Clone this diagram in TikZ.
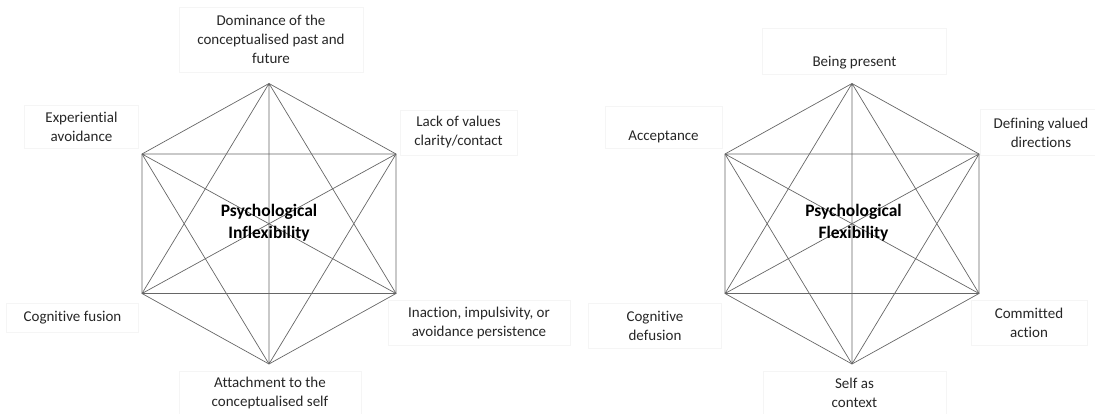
\documentclass[tikz,border=0pt]{standalone}
\usepackage{fontspec}
\setmainfont{Carlito}[Ligatures=NoCommon]
\usepackage{tikz}

\begin{document}
\begin{tikzpicture}[x=1pt, y=-1pt,
		web/.style={draw=black!60, line width=0.7pt},
		tbox/.style={draw=black!4, line width=0.5pt, inner sep=0pt, align=center, text=black!85, font=\fontsize{15}{19}\selectfont},
		core/.style={inner sep=0pt, align=center, font=\fontsize{17.5}{21.5}\selectfont\bfseries}]
		%%%%% START %%%%%
		\useasboundingbox (0, 0) rectangle (1095, 414);
		
		% left hexagon
		\coordinate (a1) at (269, 83.5);
		\coordinate (a2) at (396, 154);
		\coordinate (a3) at (396, 293.5);
		\coordinate (a4) at (269, 364);
		\coordinate (a5) at (142, 293.5);
		\coordinate (a6) at (142, 154);
		\draw[web] (a1) -- (a2) -- (a3) -- (a4) -- (a5) -- (a6) -- cycle;
		\draw[web] (a1) -- (a3) (a1) -- (a4) (a1) -- (a5) (a2) -- (a4) (a2) -- (a5);
		\draw[web] (a2) -- (a6) (a3) -- (a5) (a3) -- (a6) (a4) -- (a6);
		
		\node[core] (inflex) at (269, 222.5) {Psychological\\Inflexibility};
		
		\node[tbox, minimum width=184, minimum height=65] (dominance) at (271, 39.5) {Dominance of the\\conceptualised past and\\future};
		\node[tbox, minimum width=114, minimum height=43] (avoid) at (81.5, 126.5) {Experiential\\avoidance};
		\node[tbox, minimum width=117, minimum height=45] (lack) at (458.5, 132.5) {Lack of values\\clarity/contact};
		\node[tbox, minimum width=132, minimum height=29] (fusion) at (72.5, 317.5) {Cognitive fusion};
		\node[tbox, minimum width=182, minimum height=45] (inaction) at (479, 322.5) {Inaction, impulsivity, or\\avoidance persistence};
		\node[tbox, minimum width=182, minimum height=43] (attach) at (270, 392.5) {Attachment to the\\conceptualised self};
		
		% right hexagon
		\coordinate (b1) at (852, 83.5);
		\coordinate (b2) at (979, 154);
		\coordinate (b3) at (979, 293.5);
		\coordinate (b4) at (852, 364);
		\coordinate (b5) at (725, 293.5);
		\coordinate (b6) at (725, 154);
		\draw[web] (b1) -- (b2) -- (b3) -- (b4) -- (b5) -- (b6) -- cycle;
		\draw[web] (b1) -- (b3) (b1) -- (b4) (b1) -- (b5) (b2) -- (b4) (b2) -- (b5);
		\draw[web] (b2) -- (b6) (b3) -- (b5) (b3) -- (b6) (b4) -- (b6);
		
		\node[core] (flex) at (853.5, 222.5) {Psychological\\Flexibility};
		
		\node[tbox, minimum width=184, text height=39, text depth=7] (present) at (854.5, 51) {Being present};
		\node[tbox, minimum width=117, text height=35, text depth=7] (accept) at (663.5, 127) {Acceptance};
		\node[tbox, minimum width=121, minimum height=46] (values) at (1041, 132.5) {Defining valued\\directions};
		\node[tbox, minimum width=133, minimum height=45] (defusion) at (655, 325.5) {Cognitive\\defusion};
		\node[tbox, minimum width=116, minimum height=45] (action) at (1029, 322.5) {Committed\\action};
		\node[tbox, minimum width=183, minimum height=43] (context) at (854.5, 392.5) {Self as\\context};
		%%%%% END %%%%%
	\end{tikzpicture}
\end{document}
